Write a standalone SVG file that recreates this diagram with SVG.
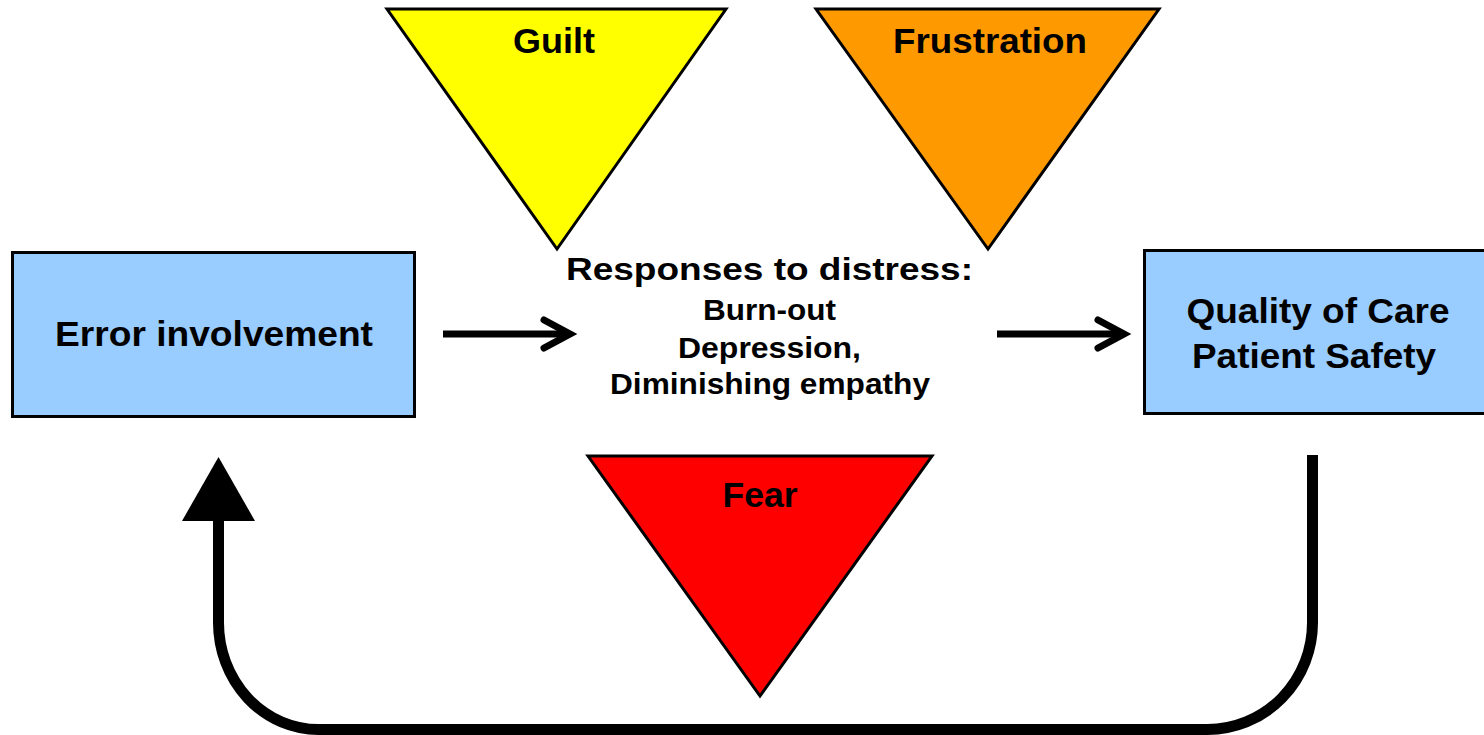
<svg xmlns="http://www.w3.org/2000/svg" width="1484" height="735" viewBox="0 0 1484 735">
<style>
.t{font-family:"Liberation Sans",Arial,sans-serif;font-weight:bold;fill:#000;text-anchor:middle}
.big{font-size:35px}
.mid{font-size:32px}
.sm{font-size:29px}
.tri{stroke:#000;stroke-width:3;stroke-linejoin:miter}
.box{fill:#99CCFF;stroke:#000;stroke-width:3}
.conn{fill:none;stroke:#000}
</style>
<rect width="1484" height="735" fill="#fff"/>
<g id="guilt">
<polygon class="tri" fill="#FFFF00" points="387,9 726,9 557,249"/>
<text class="t big" x="554" y="53" textLength="82" lengthAdjust="spacingAndGlyphs">Guilt</text>
</g>
<g id="frustration">
<polygon class="tri" fill="#FF9900" points="816,9 1159,9 988,249"/>
<text class="t big" x="990" y="53" textLength="194" lengthAdjust="spacingAndGlyphs">Frustration</text>
</g>
<g id="fear">
<polygon class="tri" fill="#FF0000" points="588,456 932,456 760,696"/>
<text class="t big" x="760" y="507" textLength="75" lengthAdjust="spacingAndGlyphs">Fear</text>
</g>
<g id="error">
<rect class="box" x="12.5" y="252.5" width="402" height="164"/>
<text class="t big" x="214" y="346" textLength="318" lengthAdjust="spacingAndGlyphs">Error involvement</text>
</g>
<g id="quality">
<rect class="box" x="1144.5" y="250.5" width="345" height="163"/>
<text class="t big" x="1318" y="323" textLength="263" lengthAdjust="spacingAndGlyphs">Quality of Care</text>
<text class="t big" x="1314" y="368" textLength="244" lengthAdjust="spacingAndGlyphs">Patient Safety</text>
</g>
<g id="responses">
<text class="t mid" x="769.5" y="280" textLength="407" lengthAdjust="spacingAndGlyphs">Responses to distress:</text>
<text class="t sm" x="769.5" y="320" textLength="133" lengthAdjust="spacingAndGlyphs">Burn-out</text>
<text class="t sm" x="769.5" y="358" textLength="183" lengthAdjust="spacingAndGlyphs">Depression,</text>
<text class="t sm" x="770" y="394" textLength="320" lengthAdjust="spacingAndGlyphs">Diminishing empathy</text>
</g>
<g id="connectors">
<line class="conn" x1="443" y1="334" x2="568" y2="334" stroke-width="7"/>
<polyline class="conn" points="544,320 570,334 544,348" stroke-width="7" stroke-linecap="round" stroke-linejoin="miter"/>
<line class="conn" x1="997" y1="334" x2="1122" y2="334" stroke-width="7"/>
<polyline class="conn" points="1098,320 1124,334 1098,348" stroke-width="7" stroke-linecap="round" stroke-linejoin="miter"/>
<path class="conn" stroke-width="11" d="M1312.5,455 V622 A105,107 0 0 1 1207.5,729.5 H318.5 A100,107 0 0 1 218.5,622.5 V518"/>
<polygon fill="#000" points="218.5,457 255,521 182,521"/>
</g>
</svg>
